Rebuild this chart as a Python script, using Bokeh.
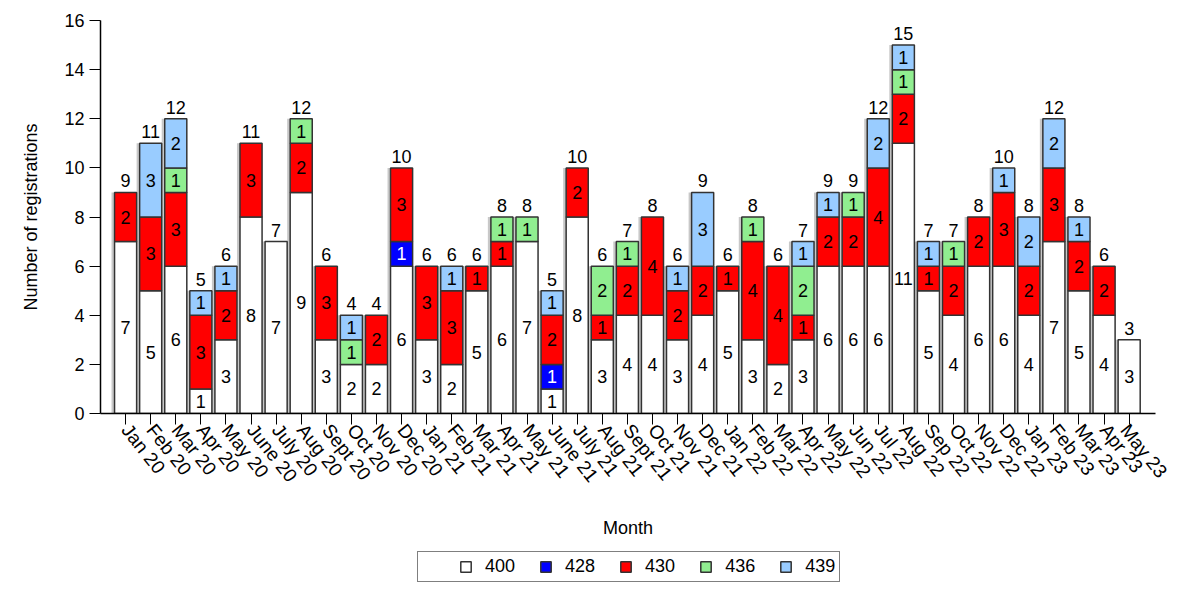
import math
import numpy as np
from bokeh.plotting import figure
from bokeh.layouts import column
from bokeh.models import Range1d, FixedTicker, ColumnDataSource, Legend, LegendItem
from bokeh.core.properties import value
from bokeh.embed import file_html
from bokeh.resources import INLINE

months = ["Jan 20", "Feb 20", "Mar 20", "Apr 20", "May 20", "June 20", "July 20", "Aug 20",
          "Sept 20", "Oct 20", "Nov 20", "Dec 20", "Jan 21", "Feb 21", "Mar 21", "Apr 21",
          "May 21", "June 21", "July 21", "Aug 21", "Sept 21", "Oct 21", "Nov 21", "Dec 21",
          "Jan 22", "Feb 22", "Mar 22", "Apr 22", "May 22", "Jun 22", "Jul 22", "Aug 22",
          "Sep 22", "Oct 22", "Nov 22", "Dec 22", "Jan 23", "Feb 23", "Mar 23", "Apr 23", "May 23"]

s400 = [7, 5, 6, 1, 3, 8, 7, 9, 3, 2, 2, 6, 3, 2, 5, 6, 7, 1, 8, 3, 4, 4, 3, 4,
        5, 3, 2, 3, 6, 6, 6, 11, 5, 4, 6, 6, 4, 7, 5, 4, 3]
s428 = [0, 0, 0, 0, 0, 0, 0, 0, 0, 0, 0, 1, 0, 0, 0, 0, 0, 1, 0, 0, 0, 0, 0, 0,
        0, 0, 0, 0, 0, 0, 0, 0, 0, 0, 0, 0, 0, 0, 0, 0, 0]
s430 = [2, 3, 3, 3, 2, 3, 0, 2, 3, 0, 2, 3, 3, 3, 1, 1, 0, 2, 2, 1, 2, 4, 2, 2,
        1, 4, 4, 1, 2, 2, 4, 2, 1, 2, 2, 3, 2, 3, 2, 2, 0]
s436 = [0, 0, 1, 0, 0, 0, 0, 1, 0, 1, 0, 0, 0, 0, 0, 1, 1, 0, 0, 2, 1, 0, 0, 0,
        0, 1, 0, 2, 0, 1, 0, 1, 0, 1, 0, 0, 0, 0, 0, 0, 0]
s439 = [0, 3, 2, 1, 1, 0, 0, 0, 0, 1, 0, 0, 0, 1, 0, 0, 0, 1, 0, 0, 0, 0, 1, 3,
        0, 0, 0, 1, 1, 0, 2, 1, 1, 0, 0, 1, 2, 2, 1, 0, 0]

series_names = ["400", "428", "430", "436", "439"]
series_values = [s400, s428, s430, s436, s439]
series_colors = ["#FFFFFF", "#0000FF", "#FF0000", "#90EE90", "#99CCFF"]
label_colors = ["#000000", "#FFFFFF", "#000000", "#000000", "#000000"]

FONT = "Liberation Sans"
xs = list(range(len(months)))
totals = [sum(v[i] for v in series_values) for i in xs]

p = figure(width=1171, height=545, output_backend="svg", toolbar_location=None,
           x_range=Range1d(-1.0, 41.05), y_range=Range1d(0, 16),
           min_border_left=100, min_border_right=16, min_border_top=20, min_border_bottom=132)
p.outline_line_color = None
p.xgrid.visible = False
p.ygrid.visible = False
p.background_fill_color = "white"
p.border_fill_color = "white"

# shadow
p.vbar(x=[x - 0.12 for x in xs], width=0.88, bottom=0, top=totals,
       fill_color="#9a9a9a", fill_alpha=0.55, line_color=None)

bottoms = [0] * len(xs)
for name, vals, col, lcol in zip(series_names, series_values, series_colors, label_colors):
    tops = [b + v for b, v in zip(bottoms, vals)]
    src = ColumnDataSource(dict(x=[x for x, v in zip(xs, vals) if v > 0],
                                bottom=[b for b, v in zip(bottoms, vals) if v > 0],
                                top=[t for t, v in zip(tops, vals) if v > 0],
                                mid=[(b + t) / 2 for b, t, v in zip(bottoms, tops, vals) if v > 0],
                                lab=[str(v) for v in vals if v > 0]))
    p.vbar(x="x", width=0.88, bottom="bottom", top="top", source=src,
           fill_color=col, line_color="#333333", line_width=1.5)
    p.text(x="x", y="mid", text="lab", source=src, text_align="center",
           text_baseline="middle", text_color=lcol, text_font=value(FONT),
           text_font_size="18px")
    bottoms = tops

p.text(x=xs, y=totals, text=[str(t) for t in totals], text_align="center",
       text_baseline="bottom", y_offset=-5, text_color="#000000",
       text_font=value(FONT), text_font_size="18px")

# axes
for ax in (p.xaxis[0], p.yaxis[0]):
    ax.axis_line_color = "#000000"
    ax.axis_line_width = 1.5
    ax.major_tick_line_color = "#000000"
    ax.major_tick_in = 0
    ax.major_tick_out = 11
    ax.minor_tick_line_color = None
    ax.major_label_text_font = FONT
    ax.major_label_text_font_size = "18px"
    ax.major_label_text_color = "#000000"
    ax.axis_label_text_font = FONT
    ax.axis_label_text_font_size = "18px"
    ax.axis_label_text_font_style = "normal"
    ax.axis_label_text_color = "#000000"

p.yaxis[0].ticker = FixedTicker(ticks=[0, 2, 4, 6, 8, 10, 12, 14, 16])
p.yaxis[0].axis_label = "Number of registrations"
p.yaxis[0].axis_label_standoff = 20
p.yaxis[0].major_label_standoff = 5

p.xaxis[0].ticker = FixedTicker(ticks=xs)
p.xaxis[0].major_label_overrides = {i: m for i, m in zip(xs, months)}
p.xaxis[0].major_label_orientation = -0.9
p.xaxis[0].major_label_text_font_size = "19px"
p.xaxis[0].axis_label = "Month"
p.xaxis[0].axis_label_standoff = 22
p.xaxis[0].major_label_standoff = 2

# legend in a slim figure below the chart
lg = figure(width=1171, height=38, output_backend="svg", toolbar_location=None,
            x_range=Range1d(0, 1), y_range=Range1d(0, 1),
            min_border_left=0, min_border_right=0, min_border_top=0, min_border_bottom=0)
lg.axis.visible = False
lg.xgrid.visible = False
lg.ygrid.visible = False
lg.outline_line_color = None
lg.background_fill_color = "white"
lg.border_fill_color = "white"
items = []
for name, col in zip(series_names, series_colors):
    r = lg.vbar(x=np.array([np.nan]), width=0.5, top=np.array([np.nan]),
                bottom=np.array([np.nan]), fill_color=col,
                line_color="#333333", line_width=1.5)
    items.append(LegendItem(label=name, renderers=[r]))
legend = Legend(items=items, orientation="horizontal", location=(317, 1),
                glyph_width=13, glyph_height=13, label_standoff=13, spacing=24,
                padding=4, border_line_color="#000000", border_line_width=1.5,
                label_text_font=FONT, label_text_font_size="18px",
                label_text_color="#000000", background_fill_color="white",
                title=" ", title_location="left", title_standoff=22)
lg.add_layout(legend)

layout = column(p, lg, spacing=0)
open("out.html", "w").write(file_html(layout, INLINE))
